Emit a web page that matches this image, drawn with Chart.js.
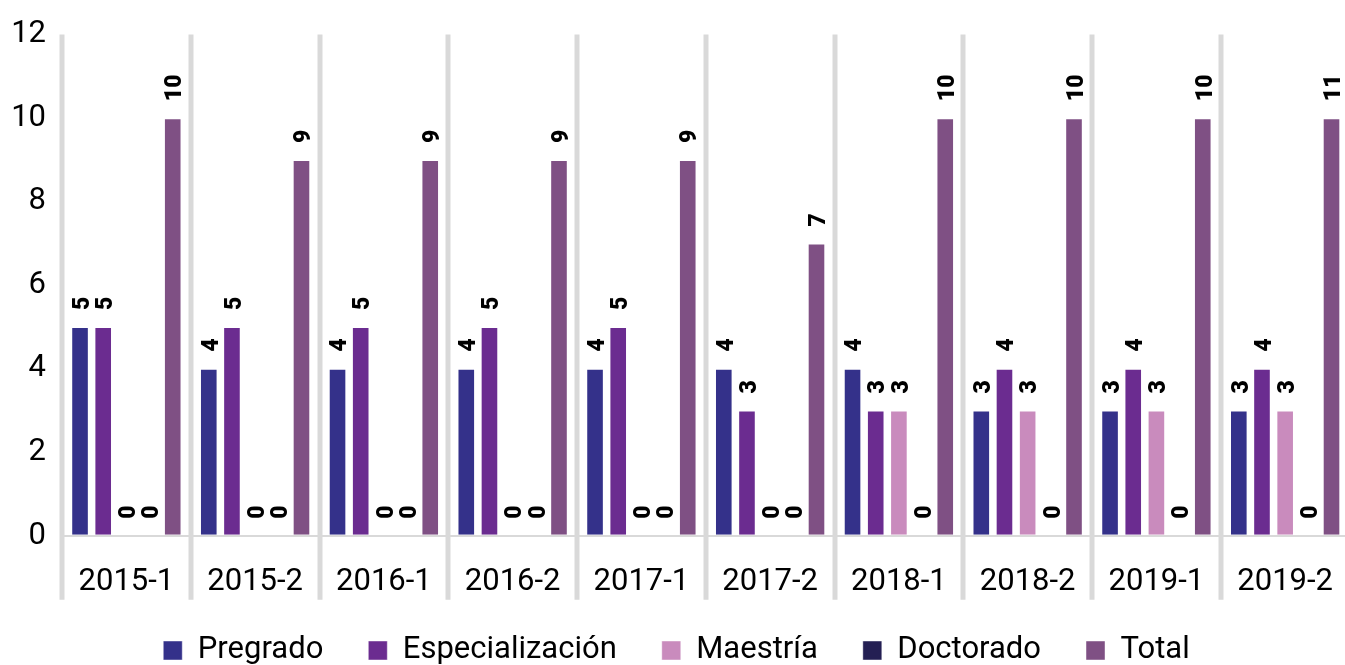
<!DOCTYPE html>
<html>
<head>
<meta charset="utf-8">
<script src="https://cdn.jsdelivr.net/npm/chart.js@4.4.1/dist/chart.umd.min.js"></script>
<style>
  html,body{margin:0;padding:0;background:#fff;overflow:hidden;}
  #wrap{width:1353px;height:665px;}
</style>
</head>
<body>
<div id="wrap"><canvas id="c"></canvas></div>
<script>
const periods=['2015-1','2015-2','2016-1','2016-2','2017-1','2017-2','2018-1','2018-2','2019-1','2019-2'];
const pregrado=[5,4,4,4,4,4,4,3,3,3];
const especializacion=[5,5,5,5,5,3,3,4,4,4];
const maestria=[0,0,0,0,0,0,3,3,3,3];
const doctorado=[0,0,0,0,0,0,0,0,0,0];
const total=[10,9,9,9,9,7,10,10,10,10];
// label printed above the total bars (last one reads 11 in the source)
const totalLabels=['10','9','9','9','9','7','10','10','10','11'];
const yTicks=[0,2,4,6,8,10,12];

const FONT='Roboto, "Noto Sans", sans-serif';

// gray dividers between periods
const dividers={
  id:'dividers',
  beforeDatasetsDraw(chart){
    const {ctx,chartArea:a}=chart;
    const n=periods.length, w=(a.right-a.left)/n;
    ctx.save();
    ctx.strokeStyle='#d9d9d9';
    ctx.lineWidth=5;
    for(let i=0;i<=n;i++){
      const x=Math.round(a.left+i*w);
      ctx.beginPath();ctx.moveTo(x,a.top);ctx.lineTo(x,a.bottom+64);ctx.stroke();
    }
    ctx.restore();
  }
};

// rotated value labels
const valueLabels={
  id:'valueLabels',
  afterDatasetsDraw(chart){
    const {ctx}=chart;
    ctx.save();
    ctx.font='900 23px '+FONT;
    ctx.fillStyle='#000';
    ctx.textAlign='left';
    ctx.textBaseline='middle';
    chart.data.datasets.forEach((ds,di)=>{
      chart.getDatasetMeta(di).data.forEach((el,i)=>{
        const txt=ds.labels?ds.labels[i]:String(ds.data[i]);
        ctx.save();
        ctx.translate(el.x+3,el.y-17);
        ctx.rotate(-Math.PI/2);
        ctx.fillText(txt,0,0);
        ctx.restore();
      });
    });
    ctx.restore();
  }
};

new Chart(document.getElementById('c'),{
  type:'bar',
  data:{
    labels:periods,
    datasets:[
      {label:'Pregrado',data:pregrado,backgroundColor:'#34318a'},
      {label:'Especialización',data:especializacion,backgroundColor:'#6b2c90'},
      {label:'Maestría',data:maestria,backgroundColor:'#c98bbd'},
      {label:'Doctorado',data:doctorado,backgroundColor:'#241f53'},
      {label:'Total',data:total,labels:totalLabels,backgroundColor:'#7f5084'}
    ].map(d=>Object.assign(d,{borderColor:'rgba(255,255,255,0.45)',borderWidth:1,categoryPercentage:0.9,barPercentage:0.76}))
  },
  options:{
    responsive:true,
    maintainAspectRatio:false,
    animation:false,
    layout:{padding:{top:16,left:0,right:0,bottom:-11}},
    plugins:{
      legend:{
        position:'bottom',
        labels:{
          font:{family:FONT,size:31},
          color:'#000',
          boxWidth:19,boxHeight:19,
          padding:45,
          useBorderRadius:false
        }
      },
      tooltip:{enabled:false}
    },
    scales:{
      x:{
        afterFit(s){s.height-=31;},
        grid:{display:false},
        border:{display:false},
        ticks:{font:{family:FONT,size:31},color:'#000',padding:20,maxRotation:0}
      },
      y:{
        min:0,max:12,
        afterBuildTicks(s){s.ticks=yTicks.map(v=>({value:v}));},
        afterFit(s){s.width=62;},
        grid:{color:c=>c.tick&&c.tick.value===0?'#d9d9d9':'transparent',lineWidth:2,drawTicks:false},
        border:{display:false},
        ticks:{font:{family:FONT,size:31},color:'#000',padding:16}
      }
    }
  },
  plugins:[dividers,valueLabels]
});
</script>
</body>
</html>
